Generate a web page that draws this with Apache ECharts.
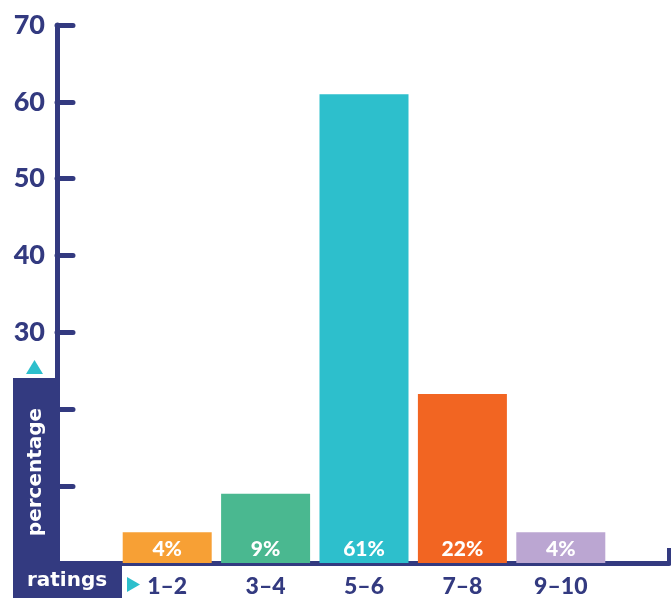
<!DOCTYPE html>
<html>
<head>
<meta charset="utf-8">
<script src="https://cdn.jsdelivr.net/npm/echarts@6/dist/echarts.min.js"></script>
<style>
  html, body { margin: 0; padding: 0; background: #fff; }
  #chart { width: 671px; height: 602px; }
</style>
</head>
<body>
<div id="chart"></div>
<script>
// data
var categories = ['1–2', '3–4', '5–6', '7–8', '9–10'];
var percentages = [4, 9, 61, 22, 4];
var yMin = 0, yMax = 70, yStep = 10;

var barColors = ['#F7A035', '#4AB890', '#2DBFCC', '#F26522', '#BBA6D2'];
var navy = '#333A80';
var cyan = '#2DBFCC';
var numFont = 'Lato';

function initChart(myChart) {
    var option = {
        animation: false,
        grid: [
            { left: 118, right: 61, top: 25, bottom: 39 },   // bars
            { left: 57, right: 2, top: 25, bottom: 39 }      // axis frame
        ],
        xAxis: [
            {
                type: 'category',
                gridIndex: 0,
                data: categories,
                axisLine: { show: false },
                axisTick: { show: false },
                axisLabel: {
                    color: navy,
                    fontFamily: numFont,
                    fontWeight: 900,
                    fontSize: 23,
                    margin: 12
                }
            },
            {
                type: 'value',
                gridIndex: 1,
                min: 0,
                max: 1,
                interval: 1,
                axisLine: { show: true, lineStyle: { color: navy, width: 5 } },
                axisTick: { show: true, inside: true, length: 15, lineStyle: { color: navy, width: 4 } },
                axisLabel: { show: false },
                splitLine: { show: false }
            }
        ],
        yAxis: [
            {
                type: 'value',
                gridIndex: 0,
                min: yMin,
                max: yMax,
                show: false
            },
            {
                type: 'value',
                gridIndex: 1,
                min: yMin,
                max: yMax,
                interval: yStep,
                axisLine: { show: true, lineStyle: { color: navy, width: 5, cap: 'round' } },
                axisTick: { show: true, inside: true, length: 16, lineStyle: { color: navy, width: 5, cap: 'round' } },
                axisLabel: {
                    color: navy,
                    fontFamily: numFont,
                    fontWeight: 900,
                    fontSize: 27,
                    margin: 12,
                    formatter: function (v) { return v >= 30 ? String(v) : ''; }
                },
                splitLine: { show: false }
            }
        ],
        series: [
            {
                type: 'bar',
                xAxisIndex: 0,
                yAxisIndex: 0,
                barWidth: 89,
                data: percentages.map(function (v, i) {
                    return { value: v, itemStyle: { color: barColors[i] } };
                }),
                label: {
                    show: true,
                    position: 'insideBottom',
                    distance: 3,
                    formatter: '{c}%',
                    color: '#fff',
                    fontFamily: numFont,
                    fontWeight: 900,
                    fontSize: 21
                }
            }
        ],
        graphic: {
            elements: [
                { type: 'rect', z: 100, shape: { x: 13, y: 378, width: 45, height: 186 }, style: { fill: navy } },
                { type: 'rect', z: 100, shape: { x: 13, y: 561, width: 109, height: 37 }, style: { fill: navy } },
                {
                    type: 'text', z: 101, x: 36, y: 472, rotation: Math.PI / 2,
                    style: { text: 'percentage', fill: '#fff', font: 'bold 20px "DejaVu Sans"', align: 'center', verticalAlign: 'middle' }
                },
                {
                    type: 'text', z: 101, x: 67, y: 581,
                    style: { text: 'ratings', fill: '#fff', font: 'bold 20px "DejaVu Sans"', align: 'center', verticalAlign: 'middle' }
                },
                { type: 'polygon', z: 101, shape: { points: [[26, 374], [43, 374], [34.5, 360]] }, style: { fill: cyan } },
                { type: 'polygon', z: 101, shape: { points: [[127, 577], [127, 592], [140, 584.5]] }, style: { fill: cyan } }
            ]
        }
    };
    myChart.setOption(option);
}

window.onload = function () {
    var myChart = echarts.init(document.getElementById('chart'));
    initChart(myChart);
};
</script>
</body>
</html>
